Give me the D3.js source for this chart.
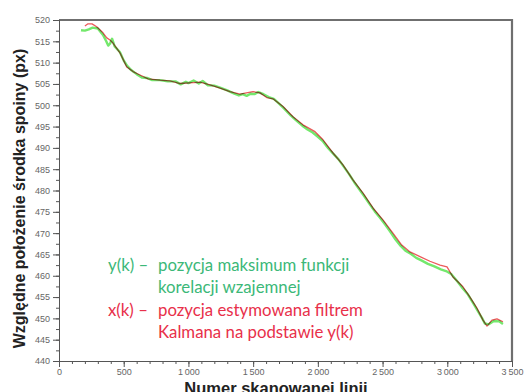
<!DOCTYPE html>
<html>
<head>
<meta charset="utf-8">
<script src="https://cdn.jsdelivr.net/npm/d3@7"></script>
<style>
  html, body { margin: 0; padding: 0; background: #fff; }
  svg { display: block; }
</style>
</head>
<body>
<svg id="chart" width="525" height="392"></svg>
<script>
// Measured weld-centre position y(k) (correlation maximum)
const lineIdxMeasured = [170, 200, 230, 260, 300, 340, 365, 380, 395, 410, 430, 470, 500, 525, 560, 600, 640, 680, 720, 780, 840,
  900, 940, 980, 1000, 1040, 1080, 1110, 1150, 1200, 1250, 1300, 1350, 1390, 1420, 1450, 1480, 1510, 1540, 1580, 1620, 1660,
  1700, 1740, 1790, 1830, 1880, 1920, 1960, 2000, 2040, 2080, 2120, 2160, 2200, 2240, 2280, 2320, 2360, 2400, 2440, 2480,
  2520, 2560, 2600, 2640, 2680, 2720, 2760, 2800, 2850, 2900, 2950, 2990, 3030, 3080, 3120, 3160, 3200, 3240, 3270, 3290,
  3320, 3360, 3400, 3430];
const posMeasured = [517.6, 517.5, 517.8, 518.2, 518.0, 516.5, 515.0, 514.0, 514.5, 515.6, 513.8, 512.5, 510.5, 509.3, 508.2,
  507.3, 506.5, 506.4, 505.9, 505.9, 505.6, 505.6, 504.9, 505.5, 505.2, 505.8, 505.1, 505.7, 504.7, 504.6, 504.1, 503.5,
  502.8, 502.3, 502.6, 502.2, 502.7, 502.6, 503.1, 502.6, 501.9, 501.5, 500.4, 499.2, 497.6, 496.5, 495.2, 494.3, 493.6,
  492.6, 491.5, 489.9, 488.6, 487.3, 485.6, 483.9, 482.0, 480.3, 478.6, 476.8, 475.1, 473.6, 472.0, 470.3, 468.5, 467.0,
  465.8, 465.1, 464.2, 463.6, 462.8, 462.2, 461.5, 461.1, 460.4, 458.6, 457.0, 455.6, 453.6, 451.5, 450.0, 448.8, 448.6,
  449.4, 449.3, 448.7];

// Kalman filter estimate x(k) based on y(k)
const lineIdxKalman = [200, 224, 255, 291, 340, 369, 394, 417, 471, 523, 572, 626, 688, 780, 858, 935, 1035, 1089, 1167, 1244,
  1321, 1398, 1499, 1553, 1605, 1653, 1731, 1808, 1885, 1978, 2040, 2117, 2194, 2271, 2349, 2426, 2503, 2580, 2648, 2712,
  2789, 2866, 2944, 2998, 3044, 3121, 3175, 3229, 3276, 3307, 3345, 3384, 3430];
const posKalman = [518.6, 519.1, 519.1, 518.4, 517.0, 515.8, 515.3, 514.6, 512.3, 509.0, 507.9, 507.1, 506.2, 505.9, 505.7,
  505.1, 505.3, 505.4, 504.8, 504.0, 503.2, 502.6, 503.2, 502.9, 501.8, 501.5, 499.7, 497.3, 495.4, 493.8, 491.9, 488.8,
  486.0, 482.5, 479.4, 475.9, 473.1, 470.0, 467.2, 465.6, 464.5, 463.4, 462.5, 462.1, 459.7, 457.4, 455.0, 452.4, 449.6,
  448.2, 449.6, 449.9, 449.2];

const xTicks = [0, 500, 1000, 1500, 2000, 2500, 3000, 3500];
const yTicks = [440, 445, 450, 455, 460, 465, 470, 475, 480, 485, 490, 495, 500, 505, 510, 515, 520];

const legendMeasured = ["y(k) \u2013", "pozycja maksimum funkcji", "korelacji wzajemnej"];
const legendKalman = ["x(k) \u2013", "pozycja estymowana filtrem", "Kalmana na podstawie y(k)"];

const svg = d3.select("#chart");
const plot = { left: 59, right: 512, top: 20, bottom: 361 };

const x = d3.scaleLinear().domain([0, 3500]).range([plot.left, plot.right]);
const y = d3.scaleLinear().domain([440, 520]).range([plot.bottom, plot.top]);

const fmt = v => d3.format(",")(v).replace(/,/g, "\u2009");

// frame on the top and right
svg.append("path")
  .attr("d", `M${plot.left},${plot.top}H${plot.right}V${plot.bottom}`)
  .attr("fill", "none").attr("stroke", "#6f6f6f").attr("stroke-width", 2.2);

// minor ticks
const xAxisMinor = d3.axisBottom(x).tickValues(d3.range(0, 3501, 100)).tickSize(3).tickFormat("");
const yAxisMinor = d3.axisLeft(y).tickValues(d3.range(440, 520.1, 2.5)).tickSize(3).tickFormat("");
svg.append("g").attr("transform", `translate(0,${plot.bottom})`).call(xAxisMinor);
svg.append("g").attr("transform", `translate(${plot.left},0)`).call(yAxisMinor);

// major ticks with labels
const xAxis = d3.axisBottom(x).tickValues(xTicks).tickSize(6).tickPadding(2).tickFormat(fmt);
const yAxis = d3.axisLeft(y).tickValues(yTicks).tickSize(6).tickPadding(3).tickFormat(d3.format("d"));
svg.append("g").attr("class", "ax").attr("transform", `translate(0,${plot.bottom})`).call(xAxis);
svg.append("g").attr("class", "ax").attr("transform", `translate(${plot.left},0)`).call(yAxis);

svg.selectAll(".domain, .tick line").attr("stroke", "#555").attr("stroke-width", 1);
svg.selectAll(".ax text").attr("fill", "#666").attr("font-family", "Liberation Sans, Arial, sans-serif").attr("font-size", 9);

// series
const lineGen = d3.line().x(d => x(d[0])).y(d => y(d[1]));
const measured = d3.zip(lineIdxMeasured, posMeasured);
const kalman = d3.zip(lineIdxKalman, posKalman);

const series = svg.append("g").style("isolation", "isolate");
series.append("path").datum(measured).attr("d", lineGen)
  .attr("fill", "none").attr("stroke", "#74e86c").attr("stroke-width", 2.4).attr("stroke-linejoin", "round");
series.append("path").datum(kalman).attr("d", lineGen)
  .attr("fill", "none").attr("stroke", "#ec5a5a").attr("stroke-width", 1.3).attr("stroke-linejoin", "round")
  .style("mix-blend-mode", "multiply");

// axis titles
svg.append("text")
  .attr("transform", `translate(25,${(plot.top + plot.bottom) / 2 + 8}) rotate(-90)`)
  .attr("text-anchor", "middle")
  .attr("font-family", "Liberation Sans, Arial, sans-serif").attr("font-weight", "bold").attr("font-size", 16)
  .attr("fill", "#222")
  .text("Względne położenie środka spoiny (px)");

svg.append("text")
  .attr("x", 276).attr("y", 394)
  .attr("text-anchor", "middle")
  .attr("font-family", "Liberation Sans, Arial, sans-serif").attr("font-weight", "bold").attr("font-size", 16.5)
  .attr("fill", "#222")
  .text("Numer skanowanej linii");

// legend text
function legendBlock(lines, color, y0, dy) {
  const g = svg.append("g")
    .attr("font-family", "Lato, 'Open Sans', sans-serif").attr("font-size", 16.8).attr("fill", color);
  g.append("text").attr("x", 108).attr("y", y0).text(lines[0]);
  g.append("text").attr("x", 158).attr("y", y0).text(lines[1]);
  g.append("text").attr("x", 158).attr("y", y0 + dy).text(lines[2]);
}
legendBlock(legendMeasured, "#3cb878", 271, 22);
legendBlock(legendKalman, "#e8304a", 316, 22);
</script>
</body>
</html>
